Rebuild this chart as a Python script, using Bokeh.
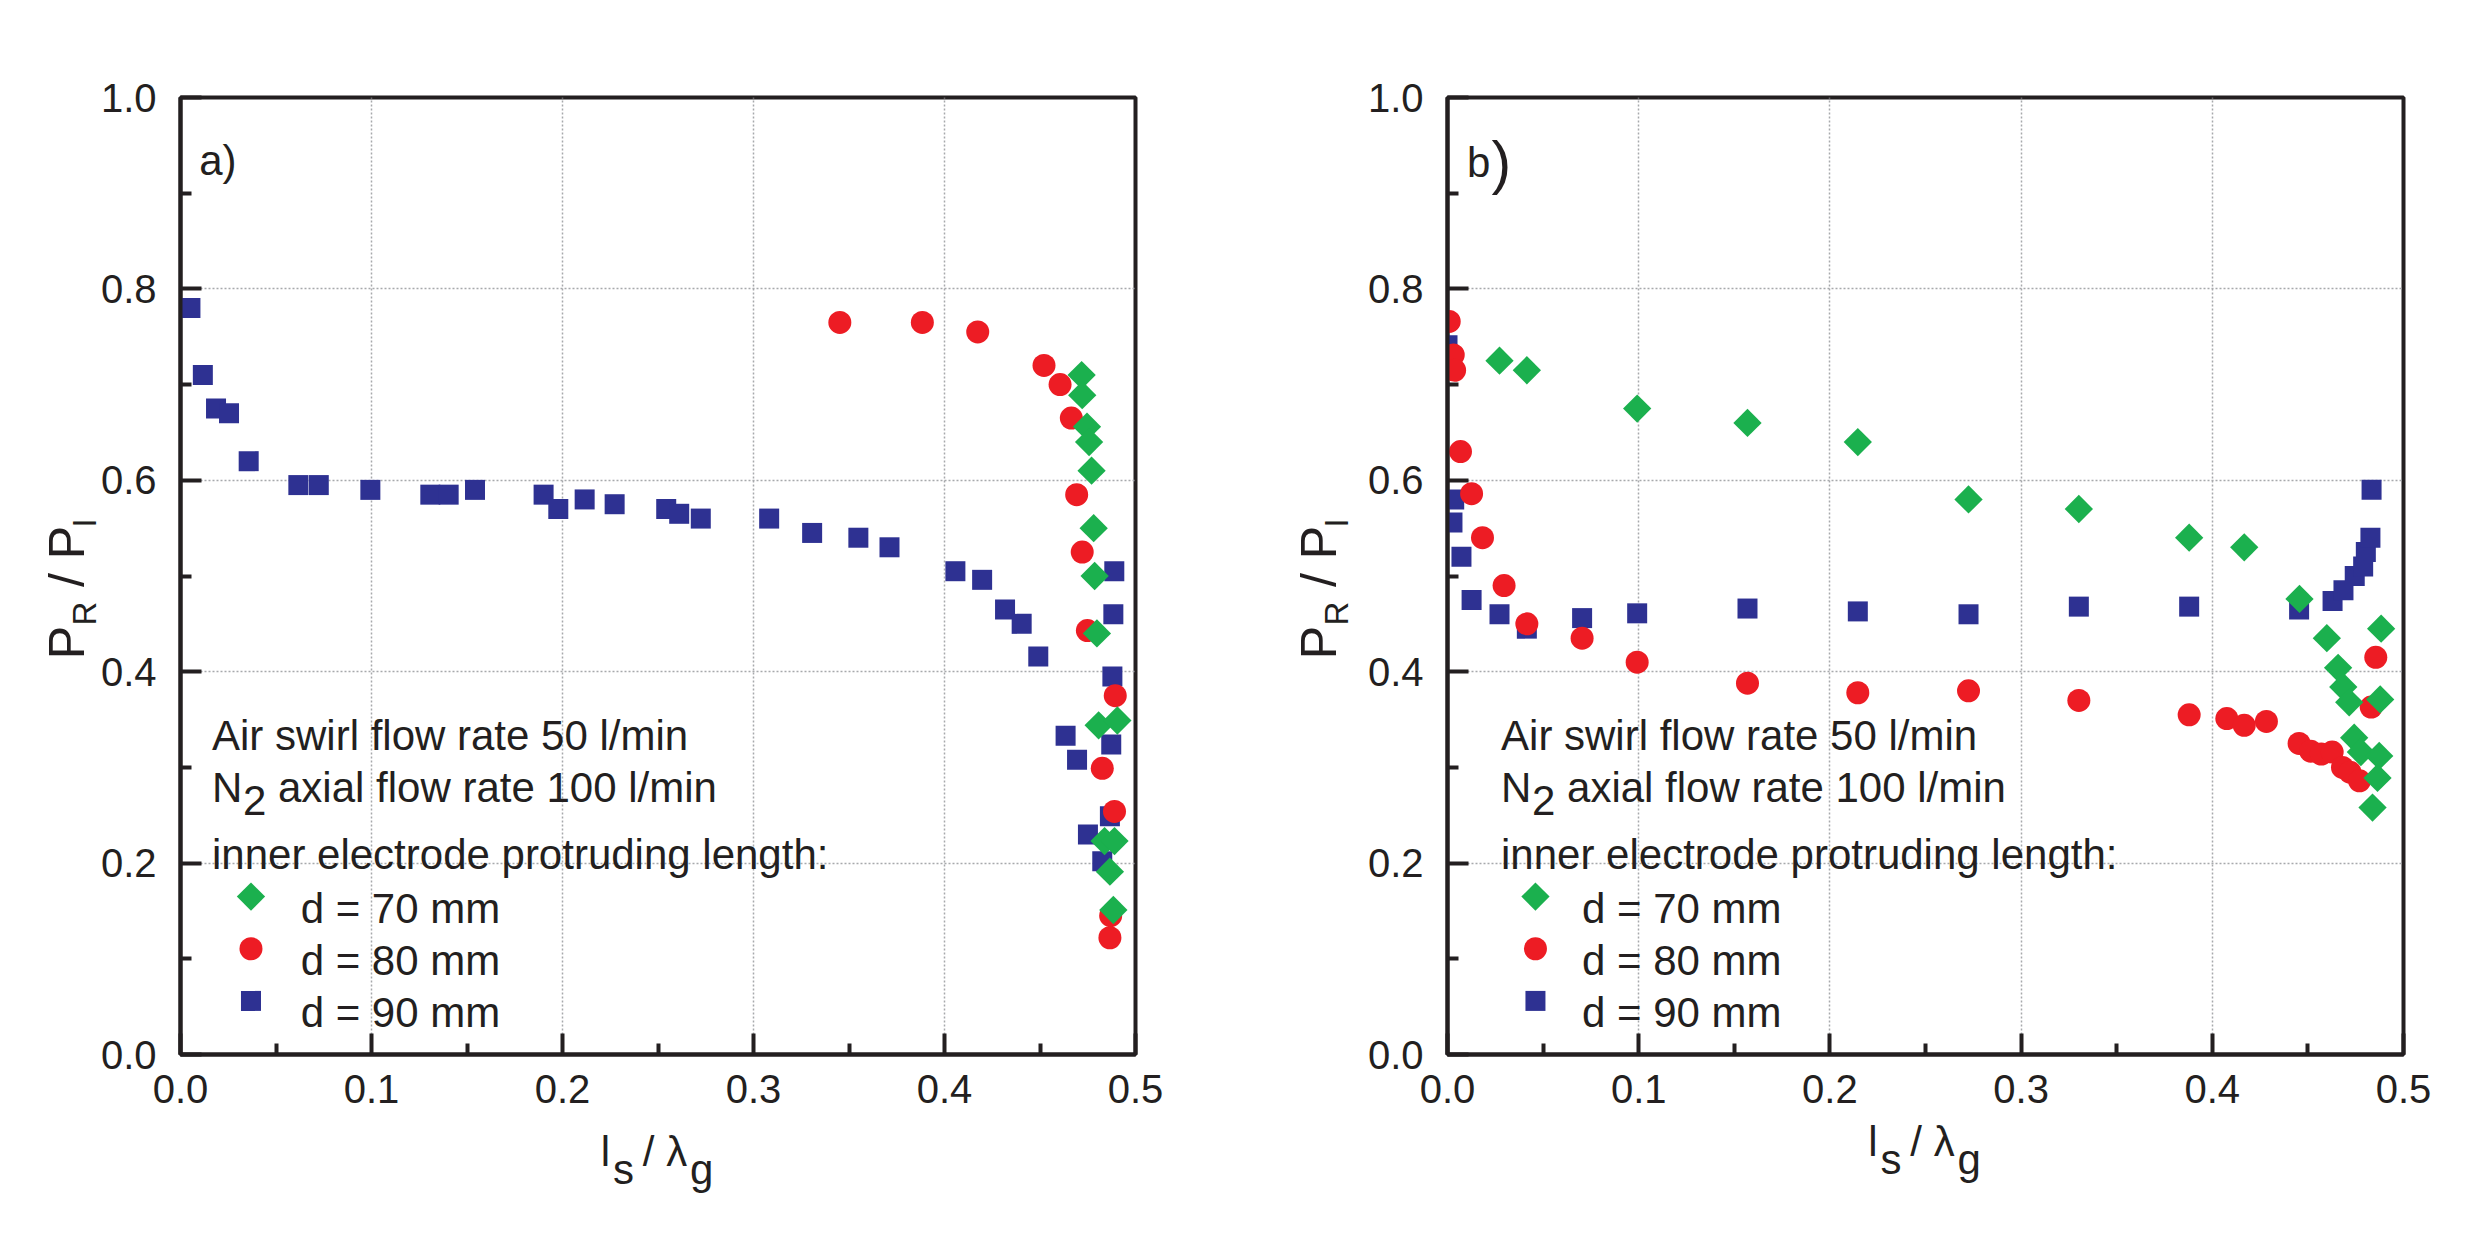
import numpy as np
from bokeh.plotting import figure
from bokeh.models import Range1d, FixedTicker, PrintfTickFormatter, Label, LinearAxis
from bokeh.layouts import row
from bokeh.embed import file_html
from bokeh.resources import INLINE

# ---------------- data ----------------
x_ticks = [0.0, 0.1, 0.2, 0.3, 0.4, 0.5]
x_minor = [0.05, 0.15, 0.25, 0.35, 0.45]
y_ticks = [0.0, 0.2, 0.4, 0.6, 0.8, 1.0]
y_minor = [0.1, 0.3, 0.5, 0.7, 0.9]

series_names = ["d = 70 mm", "d = 80 mm", "d = 90 mm"]

# panel a)
a_d70_x = [0.4718, 0.4721, 0.4746, 0.4757, 0.4770, 0.4781, 0.4786, 0.4798, 0.4807, 0.4905,
           0.4838, 0.4890, 0.4866, 0.4884]
a_d70_y = [0.710, 0.689, 0.656, 0.640, 0.610, 0.550, 0.500, 0.440, 0.344, 0.349,
           0.223, 0.223, 0.191, 0.151]
a_d80_x = [0.3452, 0.3884, 0.4174, 0.4521, 0.4605, 0.4664, 0.4692, 0.4721, 0.4748, 0.4894,
           0.4826, 0.4890, 0.4870, 0.4866]
a_d80_y = [0.765, 0.765, 0.755, 0.720, 0.700, 0.665, 0.585, 0.525, 0.443, 0.375,
           0.299, 0.254, 0.145, 0.122]
a_d90_x = [0.0052, 0.0117, 0.0186, 0.0254, 0.0357, 0.0617, 0.0724, 0.0994, 0.1308, 0.1404,
           0.1542, 0.1901, 0.1978, 0.2116, 0.2273, 0.2543, 0.2611, 0.2724, 0.3082, 0.3307,
           0.3549, 0.3712, 0.4057, 0.4197, 0.4317, 0.4404, 0.4491, 0.4889, 0.4884, 0.4879,
           0.4634, 0.4694, 0.4873, 0.4866, 0.4751, 0.4826]
a_d90_y = [0.780, 0.710, 0.675, 0.670, 0.620, 0.595, 0.595, 0.590, 0.585, 0.585,
           0.590, 0.585, 0.570, 0.580, 0.575, 0.570, 0.565, 0.560, 0.560, 0.545,
           0.540, 0.530, 0.505, 0.496, 0.465, 0.450, 0.416, 0.505, 0.460, 0.395,
           0.333, 0.308, 0.324, 0.249, 0.230, 0.202]

# panel b)
b_d70_x = [0.0272, 0.0415, 0.0992, 0.1569, 0.2146, 0.2725, 0.3302, 0.3879, 0.4167, 0.4456,
           0.4599, 0.4883, 0.4658, 0.4685, 0.4716, 0.4878, 0.4742, 0.4777, 0.4873, 0.4864,
           0.4838]
b_d70_y = [0.725, 0.715, 0.675, 0.660, 0.640, 0.580, 0.570, 0.540, 0.530, 0.476,
           0.435, 0.445, 0.404, 0.384, 0.368, 0.371, 0.331, 0.316, 0.312, 0.289,
           0.258]
b_d80_x = [0.0009, 0.0030, 0.0037, 0.0068, 0.0126, 0.0183, 0.0296, 0.0415, 0.0704, 0.0992,
           0.1569, 0.2146, 0.2725, 0.3302, 0.3879, 0.4076, 0.4167, 0.4283, 0.4454, 0.4515,
           0.4570, 0.4627, 0.4681, 0.4720, 0.4770, 0.4831, 0.4855]
b_d80_y = [0.766, 0.731, 0.715, 0.630, 0.586, 0.540, 0.490, 0.450, 0.435, 0.410,
           0.388, 0.378, 0.380, 0.370, 0.355, 0.351, 0.344, 0.348, 0.325, 0.317,
           0.314, 0.316, 0.300, 0.295, 0.286, 0.363, 0.415]
b_d90_x = [0.0000, 0.0035, 0.0026, 0.0073, 0.0126, 0.0272, 0.0415, 0.0704, 0.0992, 0.1569,
           0.2146, 0.2725, 0.3302, 0.3879, 0.4454, 0.4629, 0.4686, 0.4745, 0.4789, 0.4803,
           0.4827, 0.4833]
b_d90_y = [0.741, 0.580, 0.556, 0.520, 0.475, 0.460, 0.445, 0.456, 0.461, 0.466,
           0.463, 0.460, 0.468, 0.468, 0.465, 0.474, 0.485, 0.500, 0.510, 0.525,
           0.540, 0.590]

# ---------------- style ----------------
INK = "#231f20"
GREEN = "#1bb04e"
RED = "#ed1c24"
BLUE = "#2e3192"
FONT = "Liberation Sans"

EN, EM, QU, SX = "\u2002", "\u2003", "\u2005", "\u2006"   # fixed-width spaces
# axis titles: main line and subscript line (subscripts sit on their own line)
XT_MAIN = "l" + EN + " / λ" + EN + SX
XT_SUB = QU + "s" + EM + SX + SX + "g"
YT_MAIN = "P" + EN + " / P" + SX + EN
YT_SUB = EM + "R" + EM + EM + QU + "I" + EN + QU


def put(p, x, y, text, size):
    p.add_layout(Label(x=x, y=y, text=text, text_font=FONT, text_font_size=f"{size}px",
                       text_color=INK, text_align="left", text_baseline="alphabetic"))


def put_sub(p, x, y, parts):
    # parts: (text, pixel offset along the line, pixel drop below the baseline)
    for text, dx, drop in parts:
        p.add_layout(Label(x=x, y=y, text=text, x_offset=dx, y_offset=-drop,
                           text_font=FONT, text_font_size="42px", text_color=INK,
                           text_align="left", text_baseline="alphabetic"))


def title_axis(ax, text, size, standoff):
    ax.axis_label = text
    ax.axis_label_text_font = FONT
    ax.axis_label_text_font_size = f"{size}px"
    ax.axis_label_text_font_style = "normal"
    ax.axis_label_text_color = INK
    ax.axis_label_standoff = standoff


def bare_axis():
    ax = LinearAxis(ticker=FixedTicker(ticks=[]))
    ax.axis_line_color = None
    ax.major_tick_line_color = None
    ax.minor_tick_line_color = None
    ax.major_label_standoff = 0
    ax.major_tick_in = 0
    ax.major_tick_out = 0
    ax.minor_tick_in = 0
    ax.minor_tick_out = 0
    return ax


def make_panel(series, lay):
    p = figure(frame_width=lay["fw"], frame_height=957,
               min_border_left=lay["bl"], min_border_right=lay["br"],
               min_border_top=97, min_border_bottom=169,
               x_range=Range1d(0, 0.5), y_range=Range1d(0, 1),
               output_backend="svg", toolbar_location=None,
               background_fill_color="white", border_fill_color="white")
    p.outline_line_color = INK
    p.outline_line_width = 4
    p.outline_line_alpha = 1.0
    p.xaxis.ticker = FixedTicker(ticks=x_ticks, minor_ticks=x_minor)
    p.yaxis.ticker = FixedTicker(ticks=y_ticks, minor_ticks=y_minor)
    for ax in (p.xaxis[0], p.yaxis[0]):
        ax.formatter = PrintfTickFormatter(format="%.1f")
        ax.axis_line_width = 4
        ax.axis_line_color = INK
        ax.major_tick_line_width = 4
        ax.minor_tick_line_width = 4
        ax.major_tick_line_color = INK
        ax.minor_tick_line_color = INK
        ax.major_tick_in = 21
        ax.major_tick_out = 0
        ax.minor_tick_in = 11
        ax.minor_tick_out = 0
        ax.major_label_text_font = FONT
        ax.major_label_text_font_size = "40px"
        ax.major_label_text_color = INK
    p.yaxis.major_label_standoff = 24
    p.xaxis.major_label_standoff = 20
    for g in (p.xgrid[0], p.ygrid[0]):
        g.grid_line_color = "#a7a9ac"
        g.grid_line_dash = "2 2"
        g.grid_line_width = 1.5

    # axis titles: x  -> main line on the x axis, subscripts on an extra axis below it
    title_axis(p.xaxis[0], XT_MAIN, 42, lay["x_main_so"])
    xsub = bare_axis()
    title_axis(xsub, XT_SUB, 42, lay["x_sub_so"])
    p.add_layout(xsub, "below")
    # y -> subscripts on the y axis (nearer the frame), main line on an extra axis
    title_axis(p.yaxis[0], YT_SUB, 33, lay["y_sub_so"])
    ymain = bare_axis()
    title_axis(ymain, YT_MAIN, 50, lay["y_main_so"])
    p.add_layout(ymain, "left")

    (x70, y70), (x80, y80), (x90, y90) = series
    p.scatter(x90, y90, marker="square", size=20, fill_color=BLUE, line_color=None)
    p.scatter(x80, y80, marker="circle", size=23, fill_color=RED, line_color=None)
    p.scatter(x70, y70, marker="square", angle=np.pi / 4, size=20, fill_color=GREEN,
              line_color=None)

    # panel tag
    for text, size, tx in lay["tag"]:
        put(p, tx, lay["tag_y"], text, size)

    # annotation text
    tx = lay["text_x"]
    put(p, tx, 0.3330, "Air swirl flow rate 50 l/min", 42)
    put_sub(p, tx, 0.2790, [("N", 0, 0), ("2", 31, 13), ("axial flow rate 100 l/min", 66, 0)])
    put(p, tx, 0.2093, "inner electrode protruding length:", 42)

    # legend
    mx, lx = lay["leg_mx"], lay["leg_tx"]
    styles = [("square", np.pi / 4, 20, GREEN), ("circle", 0.0, 23, RED), ("square", 0.0, 20, BLUE)]
    for i, (name, (mk, ang, sz, col)) in enumerate(zip(series_names, styles)):
        yy = 0.1650 - i * 0.0545
        p.scatter([mx], [yy], marker=mk, angle=ang, size=sz, fill_color=col, line_color=None)
        put(p, lx, yy - 0.0125, name, 42)
    return p


lay_a = dict(fw=955, bl=180, br=105, tag=[("a)", 42, 0.0098)], tag_y=0.934,
             text_x=0.0165, leg_mx=0.0369, leg_tx=0.0629,
             x_main_so=22, x_sub_so=-32, y_sub_so=-5, y_main_so=-32)
lay_b = dict(fw=956, bl=207, br=60, tag=[("b", 42, 0.0102), (")", 59, 0.0230)], tag_y=0.932,
             text_x=0.0280, leg_mx=0.0460, leg_tx=0.0703,
             x_main_so=12, x_sub_so=-32, y_sub_so=10, y_main_so=-32)

pa = make_panel([(a_d70_x, a_d70_y), (a_d80_x, a_d80_y), (a_d90_x, a_d90_y)], lay_a)
pb = make_panel([(b_d70_x, b_d70_y), (b_d80_x, b_d80_y), (b_d90_x, b_d90_y)], lay_b)

layout = row(pa, pb)
open("out.html", "w").write(file_html(layout, INLINE))
